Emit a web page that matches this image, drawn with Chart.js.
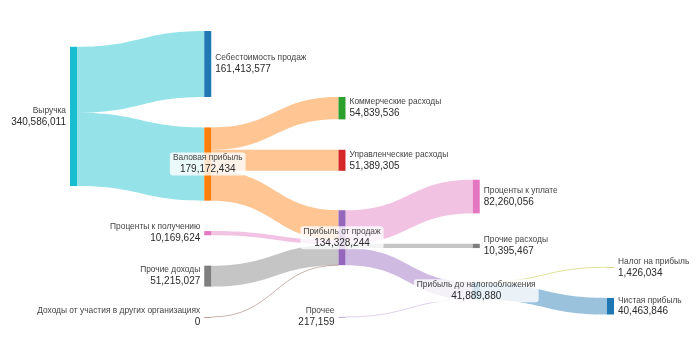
<!DOCTYPE html>
<html>
<head>
<meta charset="utf-8">
<script src="https://cdn.jsdelivr.net/npm/chart.js@4.4.1/dist/chart.umd.min.js"></script>
<style>
  html, body { margin: 0; padding: 0; background: #fff; }
</style>
</head>
<body>
<canvas id="chart" width="700" height="350"></canvas>
<script>
// узлы
const nodeLabels = [
  'Выручка',
  'Себестоимость продаж',
  'Валовая прибыль',
  'Коммерческие расходы',
  'Управленческие расходы',
  'Прибыль от продаж',
  'Проценты к получению',
  'Прочие доходы',
  'Доходы от участия в других организациях',
  'Проценты к уплате',
  'Прочие расходы',
  'Прочее',
  'Прибыль до налогообложения',
  'Налог на прибыль',
  'Чистая прибыль'
];

// потоки
const linkSource = [0, 0, 2, 2, 2, 6, 7, 8, 5, 5, 5, 11, 12, 12];
const linkTarget = [1, 2, 3, 4, 5, 5, 5, 5, 9, 10, 12, 12, 13, 14];
const linkValue = [
  161413577, 179172434,
  54839536, 51389305, 72943593,
  10169624, 51215027, 0,
  82260056, 10395467, 41672721,
  217159,
  1426034, 40463846
];

const nodeColors = [
  '#17becf', '#1f77b4', '#ff7f0e', '#2ca02c', '#d62728', '#9467bd', '#e377c2',
  '#7f7f7f', '#8c564b', '#e377c2', '#7f7f7f', '#9467bd', '#1f77b4', '#bcbd22', '#1f77b4'
];
const linkColors = [
  'rgba(23,190,207,0.45)', 'rgba(23,190,207,0.45)',
  'rgba(255,127,14,0.45)', 'rgba(255,127,14,0.45)', 'rgba(255,127,14,0.45)',
  'rgba(227,119,194,0.45)', 'rgba(127,127,127,0.45)', 'rgba(140,86,75,0.45)',
  'rgba(227,119,194,0.45)', 'rgba(127,127,127,0.45)', 'rgba(148,103,189,0.45)',
  'rgba(148,103,189,0.3)',
  'rgba(188,189,34,0.45)', 'rgba(31,119,180,0.45)'
];

const nodePadFraction = 30.5 / 286.8;
const linkSpread = 1;
const nodeWidth = 7;
const iterations = 32;

const fmt = v => v.toLocaleString('en-US');
const sumBy = (arr, f) => arr.reduce((s, d) => s + f(d), 0);

// граф
const nodes = nodeLabels.map((label, i) => ({ index: i, label, sourceLinks: [], targetLinks: [] }));
const links = linkSource.map((s, i) => ({
  index: i, source: nodes[s], target: nodes[linkTarget[i]], value: linkValue[i], color: linkColors[i]
}));
links.forEach(l => { l.source.sourceLinks.push(l); l.target.targetLinks.push(l); });
nodes.forEach(n => {
  n.value = Math.max(sumBy(n.sourceLinks, l => l.value), sumBy(n.targetLinks, l => l.value));
});

// глубина узлов, выравнивание по центру
let depthCount = 0;
for (let cur = nodes.slice(), next = []; cur.length; depthCount++, cur = next, next = []) {
  cur.forEach(n => {
    n.depth = depthCount;
    n.sourceLinks.forEach(l => { if (next.indexOf(l.target) < 0) next.push(l.target); });
  });
}
nodes.forEach(n => {
  if (n.targetLinks.length) n.col = n.depth;
  else if (n.sourceLinks.length) n.col = Math.min(...n.sourceLinks.map(l => l.target.depth)) - 1;
  else n.col = 0;
});
const columnCount = depthCount;
const columns = [];
for (let c = 0; c < columnCount; c++) columns.push(nodes.filter(n => n.col === c));

// высота оси в единицах значений
const extent = Math.max(...columns.map(col =>
  sumBy(col, n => n.value) / (1 - (col.length - 1) * nodePadFraction)));
const pad = extent * nodePadFraction;
const spread = pad * linkSpread;

const byY = (a, b) => a.y0 - b.y0;
const bySource = (a, b) => byY(a.source, b.source) || a.index - b.index;
const byTarget = (a, b) => byY(a.target, b.target) || a.index - b.index;

function reorderNodeLinks(n) {
  n.targetLinks.forEach(l => l.source.sourceLinks.sort(byTarget));
  n.sourceLinks.forEach(l => l.target.targetLinks.sort(bySource));
}

function targetTop(source, target) {
  let y = source.y0 - (source.sourceLinks.length - 1) * spread / 2;
  for (const l of source.sourceLinks) { if (l.target === target) break; y += l.width + spread; }
  for (const l of target.targetLinks) { if (l.source === source) break; y -= l.width; }
  return y;
}

function sourceTop(source, target) {
  let y = target.y0 - (target.targetLinks.length - 1) * spread / 2;
  for (const l of target.targetLinks) { if (l.source === source) break; y += l.width + spread; }
  for (const l of source.sourceLinks) { if (l.target === target) break; y -= l.width; }
  return y;
}

function pushDown(col, y, i, alpha) {
  for (; i < col.length; ++i) {
    const n = col[i];
    const dy = (y - n.y0) * alpha;
    if (dy > 1e-6) { n.y0 += dy; n.y1 += dy; }
    y = n.y1 + pad;
  }
}

function pushUp(col, y, i, alpha) {
  for (; i >= 0; --i) {
    const n = col[i];
    const dy = (n.y1 - y) * alpha;
    if (dy > 1e-6) { n.y0 -= dy; n.y1 -= dy; }
    y = n.y0 - pad;
  }
}

function resolveCollisions(col, alpha) {
  const i = col.length >> 1;
  const subject = col[i];
  pushUp(col, subject.y0 - pad, i - 1, alpha);
  pushDown(col, subject.y1 + pad, i + 1, alpha);
  pushUp(col, extent, col.length - 1, alpha);
  pushDown(col, 0, 0, alpha);
}

function relaxNode(n, linksIn, topFn, alpha) {
  let y = 0, w = 0;
  linksIn.forEach(l => {
    const v = l.value * Math.abs(l.target.col - l.source.col);
    y += topFn(l) * v; w += v;
  });
  if (!(w > 0)) return;
  const dy = (y / w - n.y0) * alpha;
  n.y0 += dy; n.y1 += dy;
  reorderNodeLinks(n);
}

function layoutSankey() {
  const ky = Math.min(...columns.map(col =>
    (extent - (col.length - 1) * pad) / sumBy(col, n => n.value)));
  links.forEach(l => { l.width = l.value * ky; });
  columns.forEach(col => {
    let y = 0;
    col.forEach(n => { n.y0 = y; n.y1 = y + n.value * ky; y = n.y1 + pad; });
    y = (extent - y + pad) / (col.length + 1);
    col.forEach((n, i) => { n.y0 += y * (i + 1); n.y1 += y * (i + 1); });
    col.forEach(n => { n.sourceLinks.sort(byTarget); n.targetLinks.sort(bySource); });
  });
  for (let it = 0; it < iterations; ++it) {
    const alpha = Math.pow(0.99, it);
    const beta = Math.max(1 - alpha, (it + 1) / iterations);
    for (let c = columns.length - 2; c >= 0; --c) {
      columns[c].forEach(n => relaxNode(n, n.sourceLinks, l => sourceTop(n, l.target), alpha));
      resolveCollisions(columns[c], beta);
    }
    for (let c = 1; c < columns.length; ++c) {
      columns[c].forEach(n => relaxNode(n, n.targetLinks, l => targetTop(l.source, n), alpha));
      resolveCollisions(columns[c], beta);
    }
  }
  nodes.forEach(n => {
    let y0 = n.y0, y1 = n.y0;
    n.sourceLinks.forEach(l => { l.sy = y0; y0 += l.width; });
    n.targetLinks.forEach(l => { l.ty = y1; y1 += l.width; });
  });
}
layoutSankey();

const sankeyPlugin = {
  id: 'sankey',
  afterDatasetsDraw(chart) {
    const ctx = chart.ctx;
    const xs = chart.scales.x, ys = chart.scales.y;
    const px = c => xs.getPixelForValue(c);
    const py = v => ys.getPixelForValue(v);
    ctx.save();

    // потоки
    links.forEach(l => {
      const sx = px(l.source.col) + nodeWidth;
      const tx = px(l.target.col);
      const xm = (sx + tx) / 2;
      const sTop = py(l.sy), sBot = py(l.sy + l.width);
      const tTop = py(l.ty), tBot = py(l.ty + l.width);
      if (sBot - sTop < 1) {
        const sm = (sTop + sBot) / 2, tm = (tTop + tBot) / 2;
        ctx.strokeStyle = l.color;
        ctx.lineWidth = 1;
        ctx.beginPath();
        ctx.moveTo(sx, sm);
        ctx.bezierCurveTo(xm, sm, xm, tm, tx, tm);
        ctx.stroke();
        return;
      }
      ctx.fillStyle = l.color;
      ctx.beginPath();
      ctx.moveTo(sx, sTop);
      ctx.bezierCurveTo(xm, sTop, xm, tTop, tx, tTop);
      ctx.lineTo(tx, tBot);
      ctx.bezierCurveTo(xm, tBot, xm, sBot, sx, sBot);
      ctx.closePath();
      ctx.fill();
    });

    // узлы
    nodes.forEach(n => {
      const x = px(n.col), top = py(n.y0), h = Math.max(py(n.y1) - top, 0.6);
      ctx.fillStyle = nodeColors[n.index];
      ctx.fillRect(x, top, nodeWidth, h);
    });

    // подписи
    const nameFont = '8.4px "Liberation Sans", Arial, sans-serif';
    const valueFont = '10px "Liberation Sans", Arial, sans-serif';
    nodes.forEach(n => {
      const x0 = px(n.col), x1 = x0 + nodeWidth;
      const cy = (py(n.y0) + py(n.y1)) / 2;
      let align, tx;
      if (n.sourceLinks.length && n.targetLinks.length) { align = 'center'; tx = (x0 + x1) / 2; }
      else if (n.sourceLinks.length) { align = 'right'; tx = x0 - 4; }
      else { align = 'left'; tx = x1 + 4; }
      const value = fmt(n.value);
      ctx.font = nameFont;
      const w1 = ctx.measureText(n.label).width;
      ctx.font = valueFont;
      const w2 = ctx.measureText(value).width;
      if (align === 'center') {
        const w = Math.max(w1, w2) + 6;
        ctx.fillStyle = 'rgba(255,255,255,0.8)';
        ctx.beginPath();
        ctx.roundRect(tx - w / 2, cy - 11.5, w, 23, 3);
        ctx.fill();
      }
      ctx.textAlign = align;
      ctx.textBaseline = 'middle';
      ctx.font = nameFont;
      ctx.fillStyle = '#444';
      ctx.fillText(n.label, tx, cy - 6);
      ctx.font = valueFont;
      ctx.fillStyle = '#2a2a2a';
      ctx.fillText(value, tx, cy + 5.5);
    });
    ctx.restore();
  }
};

const chart = new Chart(document.getElementById('chart').getContext('2d'), {
  type: 'scatter',
  data: { datasets: [] },
  options: {
    responsive: false,
    animation: false,
    layout: { padding: { left: 70, right: 93, top: 31, bottom: 33 } },
    scales: {
      x: { type: 'linear', min: 0, max: columnCount - 1, display: false },
      y: { type: 'linear', min: 0, max: extent, reverse: true, display: false }
    },
    plugins: { legend: { display: false }, tooltip: { enabled: false } }
  },
  plugins: [sankeyPlugin]
});
</script>
</body>
</html>
